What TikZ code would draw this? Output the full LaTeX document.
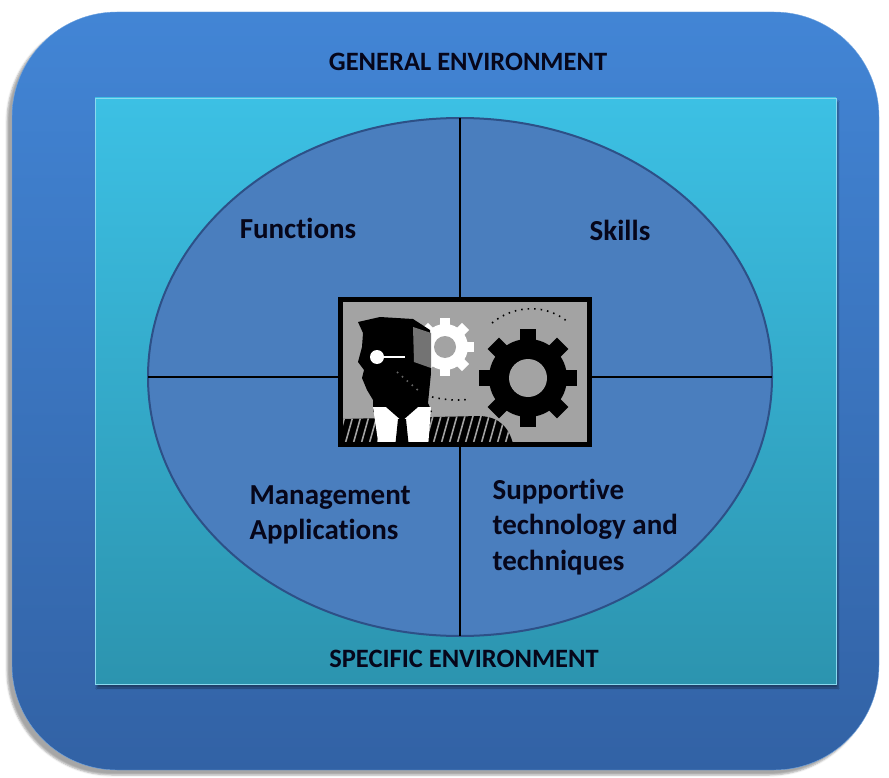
\documentclass[tikz,border=0pt]{standalone}
\usepackage{fontspec}
\setmainfont[Ligatures=CommonOff]{Carlito}
\usetikzlibrary{shapes.geometric, shadows.blur, positioning}

\definecolor{OuterTop}{RGB}{66,133,213}
\definecolor{OuterBot}{RGB}{50,98,165}
\definecolor{InnerTop}{RGB}{60,192,228}
\definecolor{InnerBot}{RGB}{44,148,175}
\definecolor{Quad}{RGB}{74,126,190}
\definecolor{QuadEdge}{RGB}{45,80,135}
\definecolor{ClipGray}{RGB}{163,163,163}
\definecolor{LabelInk}{RGB}{6,6,26}

\tikzset{
  envlabel/.style={font=\bfseries\fontsize{26.5}{30}\selectfont, text=LabelInk},
  quadlabel/.style={font=\bfseries\fontsize{29}{35.5}\selectfont, text=LabelInk, align=left},
}

% gear: centre, body radius, tooth length, tooth half width, hole radius, colour
\newcommand{\drawgear}[6]{%
  \begin{scope}[shift={#1}]
    \fill[#6] (0,0) circle[radius=#2pt];
    \foreach \a in {0,45,...,315}
      \fill[#6, rotate=\a] (-#4,0) rectangle (#4,#2+#3);
    \fill[ClipGray] (0,0) circle[radius=#5pt];
  \end{scope}}

\begin{document}
\begin{tikzpicture}[x=1pt, y=-1pt]
  \useasboundingbox (0,0) rectangle (889,778);

  % outer frame and inner panel
  \path[top color=OuterTop, bottom color=OuterBot, draw=OuterTop!75!white,
        rounded corners=105pt,
        blur shadow={shadow xshift=-5pt, shadow yshift=-5pt, shadow opacity=35}]
    (12,12) rectangle (879,770);
  \path[top color=InnerTop, bottom color=InnerBot, draw=InnerTop!60!white,
        blur shadow={shadow xshift=2pt, shadow yshift=-4pt, shadow opacity=40}]
    (95,98) rectangle (836,684);

  \node[envlabel] (general) at (468,62) {GENERAL ENVIRONMENT};
  \node[envlabel] (specific) at (464,659) {SPECIFIC ENVIRONMENT};

  % the four quadrants
  \node[ellipse, draw=QuadEdge, fill=Quad, line width=2pt, inner sep=0pt,
        outer sep=0pt, minimum width=624pt, minimum height=518pt] (oval) at (460,377) {};
  \draw[line width=2.5pt] (oval.north) -- (oval.south);
  \draw[line width=2.5pt] (oval.west) -- (oval.east);

  \node[quadlabel] (functions) at (298,228) {Functions};
  \node[quadlabel] (skills) at (620,230) {Skills};
  \node[quadlabel, anchor=west] (mgmt) at (246,515) {Management\\Applications};
  \node[quadlabel, anchor=west] (support) at (489,527) {Supportive\\technology and\\techniques};

  % clip art in the middle
  \node[fill=ClipGray, outer sep=0pt, minimum width=249pt, minimum height=145pt] (art) at (465,372) {};
  \begin{scope}
    \clip (art.south west) rectangle (art.north east);
    \drawgear{(528,378)}{39}{10}{8}{19}{black}
    \drawgear{(445,347)}{23}{6}{5}{11}{white}
    % head
    \fill[black] (358,322) -- (380,317) -- (413,319) -- (430,330) -- (431,373)
      -- (428,403) -- (432,412) -- (373,412) -- (373,400) -- (367,390) -- (362,378)
      -- (364,370) -- (358,362) -- (362,347) -- (363,333) -- cycle;
    \fill[black!55] (413,327) -- (431,333) -- (431,368) -- (414,362) -- cycle;
    \fill[white] (377,357) circle[radius=7pt];
    \draw[white, line width=2.5pt] (377,357) -- (405,357);
    % shoulders
    \fill[black] (340,419) -- (480,416) .. controls (500,417) and (510,428) .. (514,448)
      -- (340,448) -- cycle;
    \begin{scope}
      \clip (340,419) -- (480,416) .. controls (500,417) and (510,428) .. (514,448)
        -- (340,448) -- cycle;
      \foreach \x in {345,353,...,520}
        \draw[ClipGray, line width=1.6pt] (\x,416) -- ++(-9,32);
    \end{scope}
    \fill[white] (373,407) -- (431,407) -- (428,448) -- (379,448) -- cycle;
    \fill[black] (386,407) -- (418,407) -- (402,421) -- cycle;
    \fill[black] (398,419) -- (406,419) -- (409,448) -- (395,448) -- cycle;
    % dotted motion lines
    \draw[dash pattern=on 1.5pt off 5pt, line width=1.6pt]
      (492,323) .. controls (515,304) and (548,304) .. (569,323);
    \draw[dash pattern=on 1.5pt off 5pt, line width=1.6pt]
      (432,397) .. controls (445,400) and (460,401) .. (470,399);
    \draw[black!60, dash pattern=on 1.5pt off 5pt, line width=1.6pt] (397,372) -- (420,392);
  \end{scope}
  \draw[line width=5pt] (art.south west) rectangle (art.north east);
\end{tikzpicture}
\end{document}
